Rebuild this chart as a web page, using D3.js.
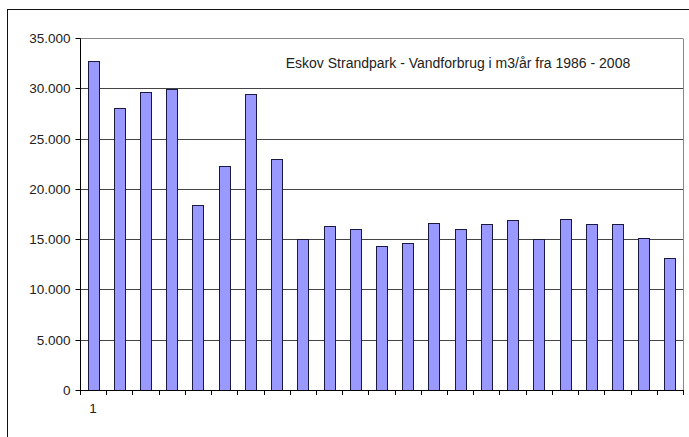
<!DOCTYPE html>
<html>
<head>
<meta charset="utf-8">
<script src="https://cdn.jsdelivr.net/npm/d3@7"></script>
<style>
  body { margin: 0; background: #fff; }
  svg { display: block; font-family: "Liberation Sans", Arial, sans-serif; }
</style>
</head>
<body>
<svg id="chart" width="689" height="437"></svg>
<script>
// Eskov Strandpark water use, m3 per year
var years = d3.range(1986, 2009);
var usage = [32700, 28000, 29600, 29900, 18400, 22300, 29400, 23000, 15000, 16300,
             16000, 14300, 14600, 16600, 16000, 16500, 16900, 15000, 17000, 16500,
             16500, 15150, 13100];
var yTicks = [0, 5000, 10000, 15000, 20000, 25000, 30000, 35000];
var xLabels = ["1"];
var title = "Eskov Strandpark - Vandforbrug i m3/år fra 1986 - 2008";

var svg = d3.select("#chart");
var pLeft = 80, pRight = 683, pTop = 38, pBottom = 390;

var da = d3.formatLocale({ decimal: ",", thousands: ".", grouping: [3], currency: ["", " kr"] });
var fmt = da.format(",.0f");

var x = d3.scaleBand().domain(years).range([pLeft, pRight])
    .paddingInner(0.58).paddingOuter(0.29);
var y = d3.scaleLinear().domain([0, 35000]).range([pBottom, pTop]);

// outer frame (cropped on right/bottom)
svg.append("rect")
    .attr("x", 7.5).attr("y", 9.5)
    .attr("width", 720).attr("height", 460)
    .attr("fill", "none").attr("stroke", "#111").attr("stroke-width", 1);

// gridlines
svg.append("g").selectAll("line")
    .data(yTicks.filter(d => d > 0)).enter()
    .append("line")
    .attr("x1", pLeft).attr("x2", pRight)
    .attr("y1", d => Math.round(y(d)) + 0.5)
    .attr("y2", d => Math.round(y(d)) + 0.5)
    .attr("stroke", d => d == 35000 ? "#888" : "#444")
    .attr("stroke-width", 1);

// plot area right edge
svg.append("line")
    .attr("x1", pRight + 0.5).attr("x2", pRight + 0.5)
    .attr("y1", Math.round(y(35000)) + 0.5).attr("y2", pBottom)
    .attr("stroke", "#888");

// bars
svg.append("g").selectAll("rect")
    .data(usage).enter()
    .append("rect")
    .attr("x", (d, i) => Math.round(x(years[i])) + 0.5)
    .attr("y", d => Math.round(y(d)) + 0.5)
    .attr("width", Math.round(x.bandwidth()))
    .attr("height", d => Math.round(pBottom - y(d)))
    .attr("fill", "#9999ff")
    .attr("stroke", "#1a1a40")
    .attr("stroke-width", 1);

// y axis
var yAxis = svg.append("g")
    .attr("transform", "translate(" + (pLeft + 0.5) + ",0.5)")
    .call(d3.axisLeft(y).tickValues(yTicks).tickFormat(d => d == 0 ? "0" : fmt(d))
        .tickSize(5).tickPadding(5));
yAxis.select(".domain").attr("stroke", "#000").attr("d", "M0," + Math.round(y(35000)) + "V" + pBottom);
yAxis.selectAll(".tick line").attr("stroke", "#000");
yAxis.selectAll(".tick text")
    .attr("fill", "#222").style("font-size", "13.5px");
yAxis.selectAll(".tick").attr("transform", d => "translate(0," + Math.round(y(d)) + ")");

// x axis: line + ticks at category boundaries
var xg = svg.append("g");
xg.append("line")
    .attr("x1", pLeft).attr("x2", pRight + 1)
    .attr("y1", pBottom + 0.5).attr("y2", pBottom + 0.5)
    .attr("stroke", "#000");
var bounds = years.map(d => x(d) - x.step() * 0.29).concat([pRight]);
xg.selectAll("line.tk")
    .data(bounds).enter()
    .append("line")
    .attr("class", "tk")
    .attr("x1", d => Math.round(d) + 0.5).attr("x2", d => Math.round(d) + 0.5)
    .attr("y1", pBottom).attr("y2", pBottom + 5)
    .attr("stroke", "#000");
xg.selectAll("text")
    .data(xLabels).enter()
    .append("text")
    .attr("x", (d, i) => x(years[i]) + x.bandwidth() / 2)
    .attr("y", pBottom + 23)
    .attr("text-anchor", "middle")
    .attr("fill", "#222")
    .style("font-size", "13.5px")
    .text(d => d);

// title inside plot
svg.append("text")
    .attr("x", 458).attr("y", 68)
    .attr("text-anchor", "middle")
    .attr("fill", "#222")
    .style("font-size", "14px")
    .text(title);
</script>
</body>
</html>
